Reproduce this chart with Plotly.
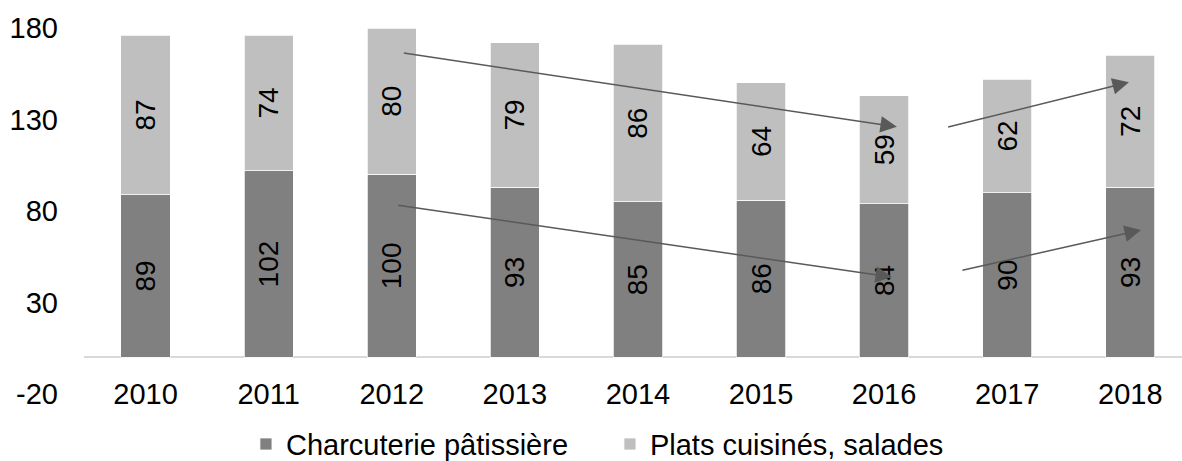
import plotly.graph_objects as go

years = ['2010', '2011', '2012', '2013', '2014', '2015', '2016', '2017', '2018']
charcuterie = [89, 102, 100, 93, 85, 86, 84, 90, 93]
plats = [87, 74, 80, 79, 86, 64, 59, 62, 72]
y_ticks = [-20, 30, 80, 130, 180]
y_tick_text = ['-20', '30', '80', '130', '180']

# trend arrows drawn over the bars: (tail x, tail y, tip x, tip y) in axis units
arrows = [
    (2.086, 166.4, 6.104, 126.0),
    (6.508, 125.7, 7.989, 150.4),
    (2.040, 83.2, 6.064, 43.9),
    (6.624, 47.4, 8.087, 69.6),
]

FONT = 'Liberation Sans, Arial, sans-serif'

fig = go.Figure()

fig.add_trace(go.Bar(
    x=years, y=charcuterie,
    name='Charcuterie pâtissière',
    marker={'color': '#808080', 'line': {'color': '#FFFFFF', 'width': 0.75}},
    text=charcuterie,
    textposition='inside',
    insidetextanchor='middle',
    textangle=-90,
    textfont={'size': 28, 'color': '#000000', 'family': FONT},
    width=0.4,
))

fig.add_trace(go.Bar(
    x=years, y=plats,
    name='Plats cuisinés, salades',
    marker={'color': '#BFBFBF', 'line': {'color': '#FFFFFF', 'width': 0.75}},
    text=plats,
    textposition='inside',
    insidetextanchor='middle',
    textangle=-90,
    textfont={'size': 28, 'color': '#000000', 'family': FONT},
    width=0.4,
))

for x0, y0, x1, y1 in arrows:
    fig.add_annotation(
        x=x1, y=y1, ax=x0, ay=y0,
        xref='x', yref='y', axref='x', ayref='y',
        text='', showarrow=True,
        arrowhead=2, arrowsize=2.2, arrowwidth=1.5,
        arrowcolor='#595959',
    )

fig.update_layout(
    width=1182,
    height=461,
    barmode='stack',
    margin={'l': 84, 'r': 0, 't': 28, 'b': 67, 'autoexpand': False},
    plot_bgcolor='#FFFFFF',
    paper_bgcolor='#FFFFFF',
    font={'family': FONT, 'size': 29, 'color': '#000000'},
    xaxis={
        'type': 'category',
        'range': [-0.5, 8.42],
        'showgrid': False,
        'showline': False,
        'zeroline': False,
        'ticks': '',
        'tickfont': {'size': 29},
        'ticklabelstandoff': -20,
    },
    yaxis={
        'range': [-20, 180],
        'tickvals': y_ticks,
        'ticktext': y_tick_text,
        'showgrid': False,
        'showline': False,
        'zeroline': True,
        'zerolinecolor': '#D9D9D9',
        'zerolinewidth': 1.5,
        'ticks': '',
        'tickfont': {'size': 29},
        'ticklabelstandoff': 25,
    },
    legend={
        'orientation': 'h',
        'x': 0.1475,
        'xanchor': 'left',
        'y': -0.137,
        'yanchor': 'middle',
        'traceorder': 'normal',
        'entrywidth': 319,
        'font': {'size': 29},
    },
    showlegend=True,
)

# page body margin off so the figure sits at the window's top-left corner
fig.write_html(
    'out.html',
    config={'displayModeBar': False},
    post_script="document.body.style.margin = '0px';",
)
